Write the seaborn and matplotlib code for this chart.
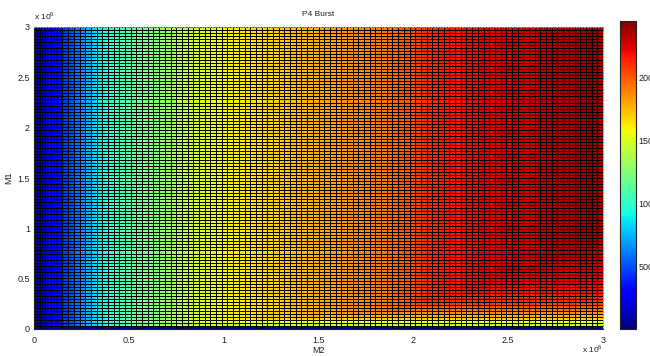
import numpy as np
import pandas as pd
import matplotlib
matplotlib.use("Agg")
import matplotlib.pyplot as plt
import seaborn as sns

# ---------------- data ----------------
m2_max = 3e6          # x range (M2)
m1_max = 3e6          # y range (M1)
n_cells = 100         # cells per axis

# value of each M2 column in the upper part of the plot (left -> right)
col_values = [
    57, 130, 227, 300, 349, 446, 520, 593, 666, 739,
    812, 885, 934, 982, 1031, 1080, 1104, 1153, 1177, 1202,
    1226, 1250, 1275, 1299, 1348, 1372, 1397, 1445, 1470, 1494,
    1518, 1543, 1567, 1579, 1591, 1604, 1616, 1628, 1640, 1652,
    1664, 1677, 1689, 1701, 1713, 1725, 1738, 1750, 1762, 1774,
    1786, 1798, 1811, 1823, 1835, 1847, 1859, 1872, 1884, 1896,
    1908, 1920, 1932, 1957, 1981, 2006, 2030, 2066, 2103, 2115,
    2127, 2140, 2152, 2164, 2176, 2183, 2193, 2200, 2213, 2225,
    2232, 2242, 2249, 2261, 2273, 2281, 2291, 2298, 2310, 2317,
    2327, 2334, 2347, 2354, 2364, 2371, 2378, 2388, 2395, 2403,
]

# upper limit of the value in the lowest M1 rows (bottom -> up)
row_caps = [
    80, 1397, 1543, 1664, 1762, 1859, 1932, 2006, 2066, 2103,
    2127, 2150, 2170, 2190, 2205, 2220, 2235, 2248, 2260, 2272,
    2283, 2294, 2304, 2314, 2323, 2332, 2340, 2348, 2356, 2363,
    2370, 2377, 2383, 2389, 2395, 2400,
]

color_min, color_max = 8, 2444
axis_ticks = [0, 0.5, 1, 1.5, 2, 2.5, 3]
axis_tick_labels = ["0", "0.5", "1", "1.5", "2", "2.5", "3"]
cbar_ticks = [500, 1000, 1500, 2000]
title = "P4 Burst"
x_label = "M2"
y_label = "M1"

# ---------------- grid ----------------
caps = np.full(n_cells, np.inf)
caps[: len(row_caps)] = row_caps
grid = np.minimum(np.array(col_values)[None, :], caps[:, None])
df = pd.DataFrame(grid)

# ---------------- figure ----------------
sns.set_style("white")
plt.rcParams["font.family"] = ["Liberation Sans", "DejaVu Sans"]
plt.rcParams["mathtext.fontset"] = "custom"
plt.rcParams["mathtext.rm"] = "Liberation Sans"

fig = plt.figure(figsize=(6.5, 3.56), dpi=100)
ax = fig.add_axes([34 / 650, 1 - 329 / 356, 569 / 650, 302 / 356])
cax = fig.add_axes([620 / 650, 1 - 329 / 356, 16 / 650, 308 / 356])

cmap = plt.get_cmap("jet")
sns.heatmap(df, ax=ax, cbar_ax=cax, cmap=cmap, vmin=color_min, vmax=color_max,
            linewidths=0.4, linecolor="black", xticklabels=False,
            yticklabels=False)
ax.invert_yaxis()  # row 0 (M1 = 0) at the bottom

cell_x = m2_max / n_cells
cell_y = m1_max / n_cells
ax.set_xticks([t * 1e6 / cell_x for t in axis_ticks])
ax.set_xticklabels(axis_tick_labels)
ax.set_yticks([t * 1e6 / cell_y for t in axis_ticks])
ax.set_yticklabels(axis_tick_labels)
ax.tick_params(direction="in", length=3, width=0.6, labelsize=6.5,
               colors="#222222", top=True, right=True)
ax.tick_params(axis="x", pad=5)
ax.tick_params(axis="y", pad=3)

for side in ["left", "bottom"]:
    ax.spines[side].set_visible(True)
    ax.spines[side].set_color("#222222")
    ax.spines[side].set_linewidth(0.8)
for side in ["top", "right"]:
    ax.spines[side].set_visible(True)
    ax.spines[side].set_color("#999999")
    ax.spines[side].set_linewidth(0.8)
    ax.spines[side].set_linestyle((0, (1, 1.5)))

ax.set_title(title, fontsize=6, pad=8, color="#222222")
ax.set_xlabel(x_label, fontsize=6.5, labelpad=1, color="#222222")
ax.set_ylabel(y_label, fontsize=6.5, labelpad=3, color="#222222")

ax.text(0.0, 1.015, r"x 10$^{6}$", transform=ax.transAxes, fontsize=6,
        ha="left", va="bottom", color="#222222")
ax.text(1.0, -0.047, r"x 10$^{6}$", transform=ax.transAxes, fontsize=6,
        ha="right", va="top", color="#222222")

cb = ax.collections[0].colorbar
cb.set_ticks(cbar_ticks)
cb.set_ticklabels([str(t) for t in cbar_ticks])
cb.outline.set_edgecolor("#222222")
cb.outline.set_linewidth(0.8)
cax.tick_params(direction="in", length=3, width=0.6, labelsize=6.5,
                colors="#222222", left=True, right=True, pad=2)

fig.savefig("out.png", dpi=100)
